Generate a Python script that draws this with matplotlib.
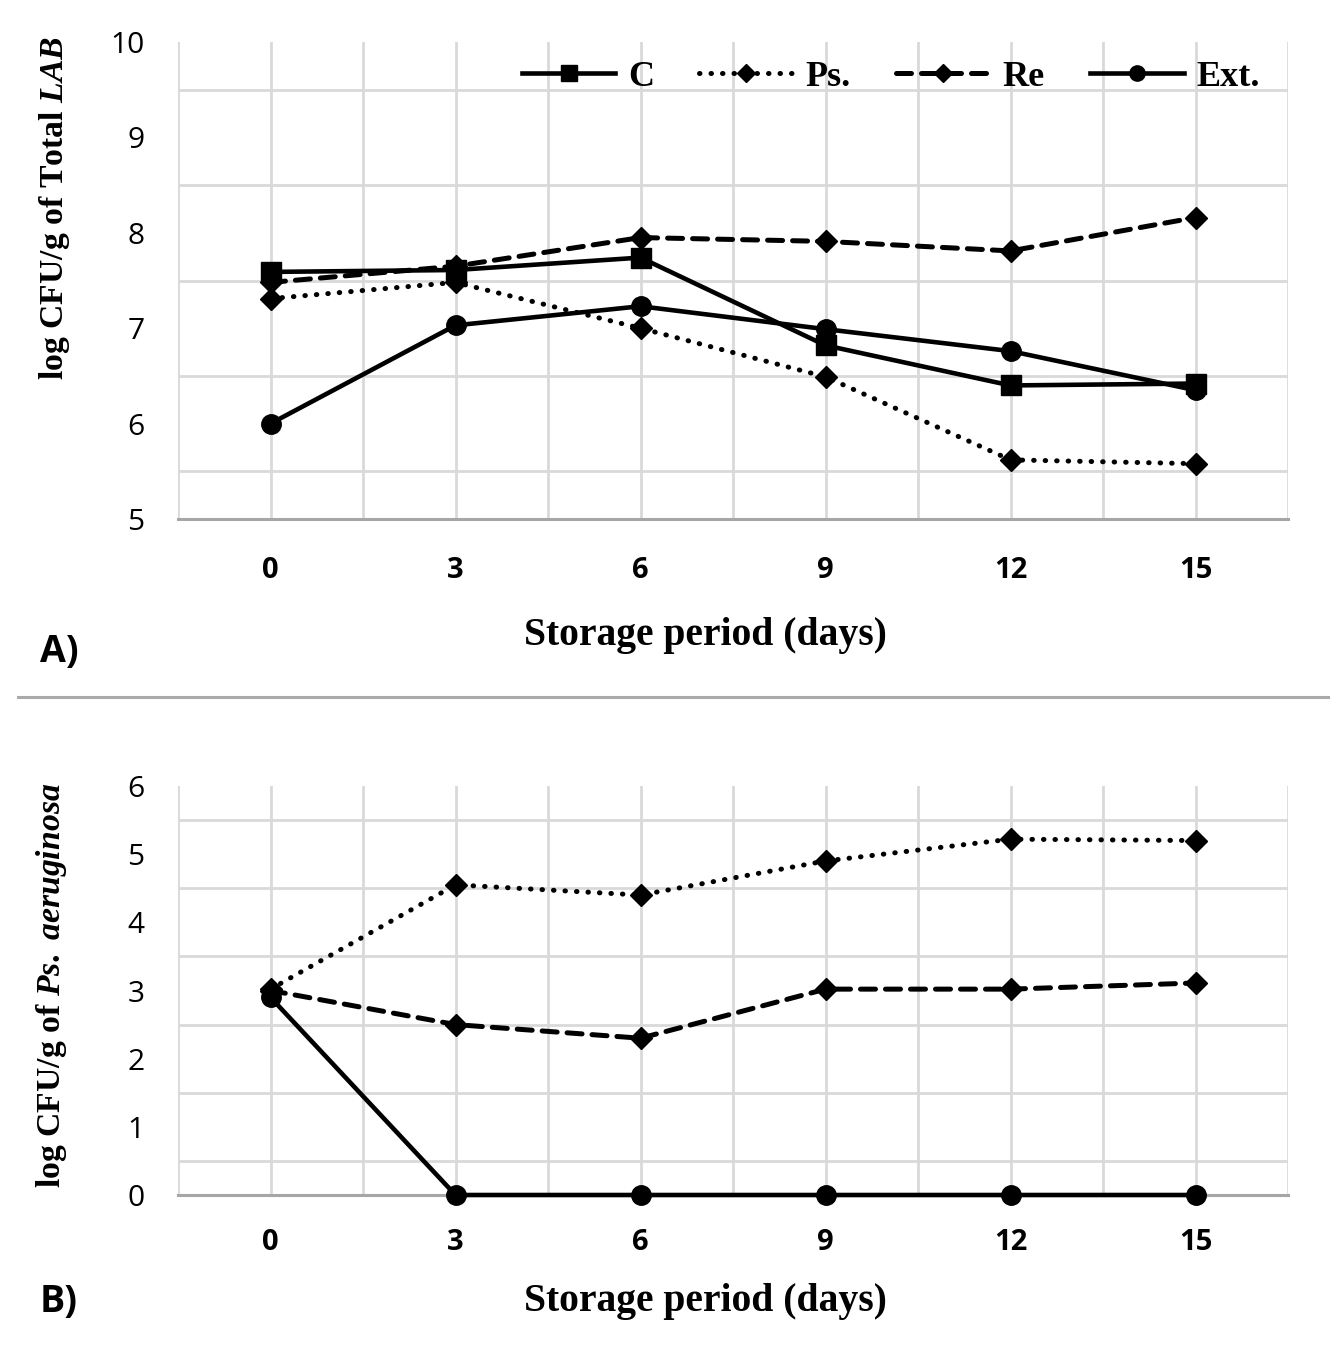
import matplotlib
matplotlib.use("Agg")
import matplotlib.pyplot as plt
from matplotlib.lines import Line2D

# ---- data ----
days = [0, 3, 6, 9, 12, 15]
day_labels = ["0", "3", "6", "9", "12", "15"]

lab_C   = [7.59, 7.61, 7.74, 6.82, 6.40, 6.42]
lab_Ps  = [7.31, 7.48, 7.00, 6.49, 5.62, 5.58]
lab_Re  = [7.48, 7.65, 7.95, 7.91, 7.81, 8.16]
lab_Ext = [6.00, 7.03, 7.23, 6.99, 6.76, 6.35]

ps_Ps  = [3.02, 4.55, 4.40, 4.90, 5.22, 5.20]
ps_Re  = [3.00, 2.50, 2.30, 3.02, 3.02, 3.11]
ps_Ext = [2.90, 0.00, 0.00, 0.00, 0.00, 0.00]

series_names = ["C", "Ps.", "Re", "Ext."]

W, H = 1338, 1354
DPI = 100
plt.rcParams['mathtext.fontset'] = 'custom'
plt.rcParams['mathtext.rm'] = 'Liberation Serif:bold'
plt.rcParams['mathtext.it'] = 'Liberation Serif:italic:bold'
plt.rcParams['mathtext.bf'] = 'Liberation Serif:bold'

fig = plt.figure(figsize=(W / DPI, H / DPI), dpi=DPI)

LW = 3.3
grid_c = "#d9d9d9"
dot_style = dict(linestyle=(0, (0.1, 2.2)), dash_capstyle='round', lw=3.6)
dash_style = dict(linestyle=(0, (3.0, 2.0)), dash_capstyle='round', lw=3.6)
TICKFONT = "Open Sans"

def fr(x0, y0, x1, y1):
    return [x0 / W, 1 - y1 / H, (x1 - x0) / W, (y1 - y0) / H]

def style_axes(ax, ymin, ymax, pad_x):
    ax.set_xlim(-1.5, 16.5)
    ax.set_ylim(ymin, ymax)
    ax.set_xticks(days)
    ax.set_xticklabels(day_labels, fontfamily=TICKFONT, fontweight="bold", fontsize=21)
    yt = list(range(ymin, ymax + 1))
    ax.set_yticks(yt)
    ax.set_yticklabels([str(v) for v in yt], fontfamily=TICKFONT, fontsize=21.5)
    ax.set_xticks([v + 1.5 for v in [-3] + days], minor=True)
    ax.set_yticks([ymin + 0.5 * k for k in range(2 * (ymax - ymin) + 1)], minor=True)
    ax.grid(which='minor', color=grid_c, linewidth=2.0, zorder=0)
    ax.grid(which='major', axis='x', color=grid_c, linewidth=2.0, zorder=0)
    ax.tick_params(which='both', length=0)
    ax.tick_params(axis='x', pad=pad_x)
    ax.tick_params(axis='y', pad=24)
    for s in ['top', 'right', 'left']:
        ax.spines[s].set_visible(False)
    ax.spines['bottom'].set_color("#a6a6a6")
    ax.spines['bottom'].set_linewidth(2.2)
    ax.spines['bottom'].set_zorder(1)
    ax.set_axisbelow(True)

# ---- Panel A ----
ax1 = fig.add_axes(fr(178, 42, 1288, 519))
style_axes(ax1, 5, 10, 26.5)
ax1.plot(days, lab_C, color='k', lw=LW, marker='s', ms=14, zorder=3)
ax1.plot(days, lab_Ps, color='k', marker='D', ms=11, zorder=3, **dot_style)
ax1.plot(days, lab_Re, color='k', marker='D', ms=11, zorder=3, **dash_style)
ax1.plot(days, lab_Ext, color='k', lw=LW, marker='o', ms=14, zorder=3)

handles = [
    Line2D([], [], color='k', lw=LW, marker='s', ms=11),
    Line2D([], [], color='k', marker='D', ms=9, **dot_style),
    Line2D([], [], color='k', marker='D', ms=9, **dash_style),
    Line2D([], [], color='k', lw=LW, marker='o', ms=11),
]
ax1.legend(handles, series_names, loc='center right',
           bbox_to_anchor=((1260 - 178) / 1110, (519 - 77) / 477),
           ncol=4, frameon=False, handlelength=2.6, handletextpad=0.35,
           columnspacing=1.25, borderpad=0, borderaxespad=0,
           prop=dict(family='Liberation Serif', weight='bold', size=26))

fig.text(705 / W, 1 - 636 / H, "Storage period (days)", ha='center', va='center',
         fontfamily='Liberation Serif', fontweight='bold', fontsize=28.5)
fig.text(55 / W, 1 - 208 / H, r"log CFU/g of Total $LAB$", ha='center', va='center',
         rotation=90, fontfamily='Liberation Serif', fontweight='bold', fontsize=24.3)
fig.text(40 / W, 1 - 652 / H, "A)", ha='left', va='center',
         fontfamily=TICKFONT, fontweight='bold', fontsize=27)

# separator
fig.add_artist(Line2D([18 / W, 1328 / W], [1 - 697 / H, 1 - 697 / H],
                      color="#aaaaaa", lw=2.2, transform=fig.transFigure))

# ---- Panel B ----
ax2 = fig.add_axes(fr(178, 786, 1288, 1195))
style_axes(ax2, 0, 6, 23.5)
ax2.plot(days, ps_Ps, color='k', marker='D', ms=11, zorder=3, **dot_style)
ax2.plot(days, ps_Re, color='k', marker='D', ms=11, zorder=3, **dash_style)
ax2.plot(days, ps_Ext, color='k', lw=LW, marker='o', ms=14, zorder=3, clip_on=False)

fig.text(705 / W, 1 - 1301 / H, "Storage period (days)", ha='center', va='center',
         fontfamily='Liberation Serif', fontweight='bold', fontsize=28.5)
fig.text(52 / W, 1 - 985 / H, r"log CFU/g of $Ps.\ aeruginosa$", ha='center', va='center',
         rotation=90, fontfamily='Liberation Serif', fontweight='bold', fontsize=24.3)
fig.text(40 / W, 1 - 1302 / H, "B)", ha='left', va='center',
         fontfamily=TICKFONT, fontweight='bold', fontsize=27)

fig.savefig("out.png", dpi=DPI)
